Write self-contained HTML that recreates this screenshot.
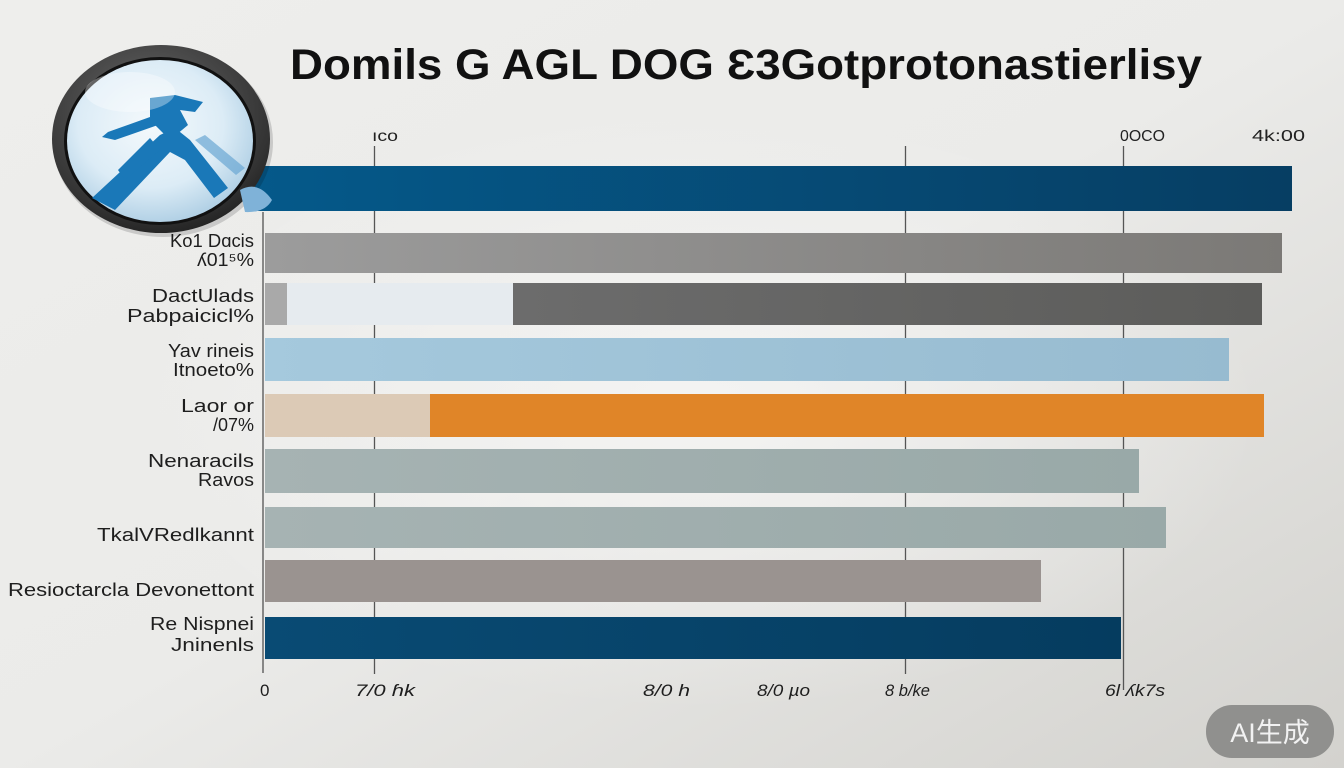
<!DOCTYPE html>
<html><head><meta charset="utf-8"><style>
html,body{margin:0;padding:0;width:1344px;height:768px;overflow:hidden;background:#e9e9e7;}
svg{display:block}
text{font-family:"Liberation Sans","Noto Sans CJK SC",sans-serif;}
</style></head><body>
<svg width="1344" height="768" viewBox="0 0 1344 768" xmlns="http://www.w3.org/2000/svg">
<defs>
<linearGradient id="bg" x1="0" y1="0" x2="1" y2="1">
<stop offset="0" stop-color="#eeeeec"/><stop offset="0.5" stop-color="#ebebe9"/><stop offset="1" stop-color="#d3d2ce"/>
</linearGradient>
<radialGradient id="glow" cx="0.5" cy="0.5" r="0.5"><stop offset="0" stop-color="#f6f6f5" stop-opacity="0.8"/><stop offset="1" stop-color="#f6f6f5" stop-opacity="0"/></radialGradient>
<linearGradient id="b1" x1="0" x2="1"><stop offset="0" stop-color="#05598a"/><stop offset="1" stop-color="#063e63"/></linearGradient>
<linearGradient id="b2" x1="0" x2="1"><stop offset="0" stop-color="#9c9c9c"/><stop offset="1" stop-color="#7b7976"/></linearGradient>
<linearGradient id="b3" x1="0" x2="1"><stop offset="0" stop-color="#6c6c6c"/><stop offset="1" stop-color="#5c5c5a"/></linearGradient>
<linearGradient id="b4" x1="0" x2="1"><stop offset="0" stop-color="#a5c9dd"/><stop offset="1" stop-color="#97bbd0"/></linearGradient>
<linearGradient id="b6" x1="0" x2="1"><stop offset="0" stop-color="#a6b3b3"/><stop offset="1" stop-color="#99a9a8"/></linearGradient>
<linearGradient id="b9" x1="0" x2="1"><stop offset="0" stop-color="#094b74"/><stop offset="1" stop-color="#053c5f"/></linearGradient>
<radialGradient id="lens" cx="0.45" cy="0.4" r="0.65"><stop offset="0" stop-color="#f4f9fc"/><stop offset="0.6" stop-color="#dcecf6"/><stop offset="1" stop-color="#a9cbe2"/></radialGradient>
<radialGradient id="ring" cx="0.45" cy="0.35" r="0.7"><stop offset="0" stop-color="#6a6a6a"/><stop offset="0.8" stop-color="#333"/><stop offset="1" stop-color="#1e1e1e"/></radialGradient>
</defs>
<rect width="1344" height="768" fill="url(#bg)"/>
<ellipse cx="700" cy="410" rx="560" ry="300" fill="url(#glow)"/>

<!-- title -->
<text x="290" y="79" font-size="43" font-weight="bold" fill="#111" textLength="912" lengthAdjust="spacingAndGlyphs">Domils G AGL DOG Ɛ3Gotprotonastierlisy</text>

<!-- top ticks -->
<text x="372" y="141" font-size="16" fill="#222" textLength="26" lengthAdjust="spacingAndGlyphs">ıco</text>
<text x="1120" y="141" font-size="16" fill="#222" textLength="45" lengthAdjust="spacingAndGlyphs">0OCO</text>
<text x="1252" y="141" font-size="16" fill="#222" textLength="53" lengthAdjust="spacingAndGlyphs">4k:00</text>

<!-- gridlines -->
<line x1="374.5" y1="146" x2="374.5" y2="674" stroke="#555" stroke-width="1.3"/>
<line x1="905.5" y1="146" x2="905.5" y2="674" stroke="#555" stroke-width="1.3"/>
<line x1="1123.5" y1="146" x2="1123.5" y2="690" stroke="#555" stroke-width="1.3"/>
<line x1="263" y1="212" x2="263" y2="673" stroke="#666" stroke-width="1.5"/>

<!-- bars -->
<rect x="255" y="166" width="1037" height="45" fill="url(#b1)"/>
<rect x="265" y="233" width="1017" height="40" fill="url(#b2)"/>
<rect x="265" y="283" width="22" height="42" fill="#a9a9a9"/>
<rect x="287" y="283" width="226" height="42" fill="#e6ebef"/>
<rect x="513" y="283" width="749" height="42" fill="url(#b3)"/>
<rect x="265" y="338" width="964" height="43" fill="url(#b4)"/>
<rect x="265" y="394" width="165" height="43" fill="#dccab6"/>
<rect x="430" y="394" width="834" height="43" fill="#e08528"/>
<rect x="265" y="449" width="874" height="44" fill="url(#b6)"/>
<rect x="265" y="507" width="901" height="41" fill="url(#b6)"/>
<rect x="265" y="560" width="776" height="42" fill="#9a9390"/>
<rect x="265" y="617" width="856" height="42" fill="url(#b9)"/>

<!-- labels -->
<g font-size="18" fill="#1e1e1e">
<text x="170" y="247" textLength="84" lengthAdjust="spacingAndGlyphs">Ko1 Dɑcis</text>
<text x="197" y="266" textLength="57" lengthAdjust="spacingAndGlyphs">ʎ01⁵%</text>
<text x="152" y="302" textLength="102" lengthAdjust="spacingAndGlyphs">DactUlads</text>
<text x="127" y="322" textLength="127" lengthAdjust="spacingAndGlyphs">Pabpaicicl%</text>
<text x="168" y="357" textLength="86" lengthAdjust="spacingAndGlyphs">Yav rineis</text>
<text x="173" y="376" textLength="81" lengthAdjust="spacingAndGlyphs">Itnoeto%</text>
<text x="181" y="412" textLength="73" lengthAdjust="spacingAndGlyphs">Laor or</text>
<text x="213" y="431" textLength="41" lengthAdjust="spacingAndGlyphs">/07%</text>
<text x="148" y="467" textLength="106" lengthAdjust="spacingAndGlyphs">Nenaracils</text>
<text x="198" y="486" textLength="56" lengthAdjust="spacingAndGlyphs">Ravos</text>
<text x="97" y="541" textLength="157" lengthAdjust="spacingAndGlyphs">TkalVRedlkannt</text>
<text x="8" y="596" textLength="246" lengthAdjust="spacingAndGlyphs">Resioctarcla Devonettont</text>
<text x="150" y="630" textLength="104" lengthAdjust="spacingAndGlyphs">Re Nispnei</text>
<text x="171" y="651" textLength="83" lengthAdjust="spacingAndGlyphs">Jninenls</text>
</g>

<!-- bottom ticks -->
<g font-size="17" fill="#1e1e1e" font-style="italic">
<text x="260" y="696" font-style="normal">0</text>
<text x="355" y="696" textLength="60" lengthAdjust="spacingAndGlyphs">7/0 ɦk</text>
<text x="643" y="696" textLength="47" lengthAdjust="spacingAndGlyphs">8/0 h</text>
<text x="757" y="696" textLength="53" lengthAdjust="spacingAndGlyphs">8/0 µo</text>
<text x="885" y="696" textLength="45" lengthAdjust="spacingAndGlyphs">8 b/ke</text>
<text x="1105" y="696" textLength="60" lengthAdjust="spacingAndGlyphs">6l ʎk7s</text>
</g>

<!-- magnifier -->
<ellipse cx="163" cy="142" rx="110" ry="95" fill="#000" opacity="0.15"/>
<ellipse cx="161" cy="139" rx="109" ry="94" fill="url(#ring)"/>
<ellipse cx="160" cy="141" rx="96" ry="84" fill="#111"/>
<ellipse cx="160" cy="141" rx="93" ry="81" fill="url(#lens)"/>
<path d="M240 190 Q258 180 272 200 Q265 213 245 212 Z" fill="#7fb2d8"/>
<g fill="#1a78b8">
<polygon points="92,198 115,210 170,152 185,160 214,198 228,188 190,140 175,128 160,135"/>
<polygon points="102,137 108,132 150,117 158,125 115,140"/>
<polygon points="150,98 175,95 203,102 195,112 180,110 188,125 170,140 150,120"/>
<polygon points="118,170 150,138 160,150 125,180"/>
</g>
<polygon points="195,140 205,135 245,168 236,175" fill="#6aa6d3" opacity="0.7"/>
<ellipse cx="130" cy="92" rx="45" ry="20" fill="#fff" opacity="0.35"/>

<!-- badge -->
<rect x="1206" y="705" width="128" height="53" rx="26" fill="#8c8c8a" opacity="0.95"/>
<text x="1270" y="742" font-size="27" fill="#f2f2f2" text-anchor="middle">AI生成</text>
</svg>
</body></html>
